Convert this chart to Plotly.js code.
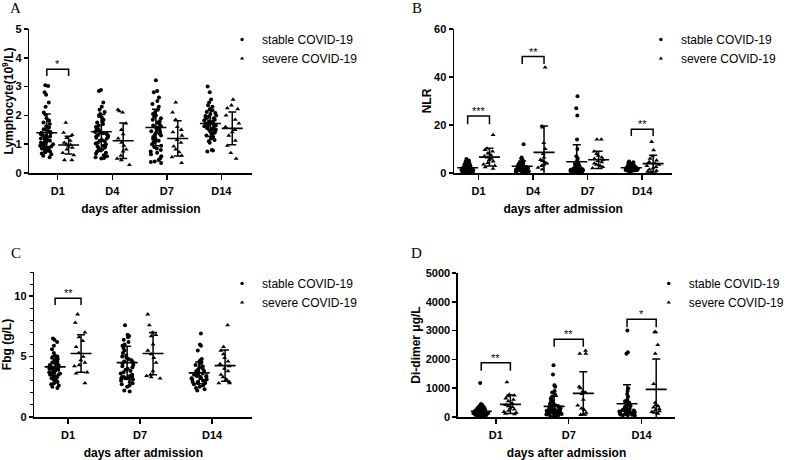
<!DOCTYPE html>
<html><head><meta charset="utf-8">
<script src="https://cdn.plot.ly/plotly-3.0.1.min.js"></script>
<style>html,body{margin:0;padding:0;background:#fff}#chart{width:790px;height:460px}</style>
</head><body><div id="chart"></div>
<script>
// ---------- categories ----------
const daysAB = ['D1', 'D4', 'D7', 'D14'];
const daysCD = ['D1', 'D7', 'D14'];
const groupNames = ['stable COVID-19', 'severe COVID-19'];
const xTitle = 'days after admission';

// ---------- Panel A: Lymphocyte (10^9/L) ----------
const A_stable_D1 = [3.05,3.02,2.8,2.72,2.45,2.3,2.1,2.02,1.9,1.82,1.75,1.7,1.62,1.58,1.52,1.5,1.46,1.42,1.4,1.38,1.35,1.32,1.3,1.27,1.25,1.22,1.2,1.18,1.15,1.12,1.1,1.08,1.05,1.02,1.0,0.98,0.95,0.92,0.9,0.88,0.85,0.82,0.8,0.78,0.75,0.72,0.68,0.65,0.6,0.55];
const A_stable_D4 = [2.88,2.85,2.45,2.3,2.2,2.12,2.05,1.98,1.92,1.85,1.8,1.75,1.7,1.65,1.6,1.55,1.52,1.48,1.45,1.42,1.4,1.38,1.35,1.32,1.3,1.28,1.25,1.22,1.2,1.15,1.12,1.1,1.05,1.02,1.0,0.95,0.92,0.9,0.85,0.82,0.78,0.75,0.7,0.68,0.62,0.58,0.55,0.52,0.5];
const A_stable_D7 = [3.22,2.85,2.8,2.62,2.5,2.4,2.3,2.2,2.12,2.05,2.0,1.95,1.9,1.85,1.8,1.75,1.7,1.65,1.62,1.58,1.55,1.52,1.5,1.45,1.42,1.4,1.35,1.32,1.3,1.25,1.2,1.18,1.12,1.1,1.05,1.0,0.95,0.9,0.85,0.8,0.75,0.7,0.65,0.58,0.5,0.45,0.4,0.38,0.35];
const A_stable_D14 = [3.0,2.8,2.55,2.45,2.35,2.3,2.22,2.18,2.12,2.08,2.05,2.0,1.98,1.95,1.92,1.9,1.88,1.85,1.82,1.8,1.78,1.75,1.72,1.7,1.68,1.65,1.62,1.6,1.58,1.55,1.52,1.5,1.48,1.45,1.42,1.4,1.35,1.3,1.25,1.2,1.15,1.1,1.05,0.8,0.78,0.75];
const A_severe_D1 = [1.75,1.4,1.32,1.22,1.12,1.05,1.0,0.98,0.92,0.88,0.82,0.7,0.62,0.45,0.45];
const A_severe_D4 = [2.2,2.15,2.1,1.72,1.5,1.35,1.2,1.05,0.95,0.82,0.75,0.6,0.5,0.45,0.28];
const A_severe_D7 = [2.45,2.1,1.85,1.6,1.5,1.42,1.3,1.15,1.05,0.92,0.82,0.72,0.6,0.55,0.35];
const A_severe_D14 = [2.55,2.35,2.25,2.22,2.0,1.85,1.72,1.6,1.5,1.42,1.3,1.12,0.95,0.7,0.5];
const A_stable_mean = [1.40, 1.43, 1.58, 1.72];
const A_stable_sd = [0.65, 0.60, 0.63, 0.45];
const A_severe_mean = [0.97, 1.12, 1.20, 1.55];
const A_severe_sd = [0.31, 0.62, 0.61, 0.57];
const A_sig_day = [0];
const A_sig_text = ['*'];
const A_sig_top = [3.6];
const A_sig_leg = [3.37];

// ---------- Panel B: NLR ----------
const B_stable_D1 = [5.8,5.2,4.8,4.5,4.2,4.0,3.8,3.6,3.4,3.2,3.1,3.0,2.9,2.8,2.7,2.6,2.5,2.4,2.3,2.2,2.1,2.0,2.0,1.9,1.8,1.8,1.7,1.6,1.6,1.5,1.5,1.4,1.4,1.3,1.3,1.2,1.2,1.1,1.0,1.0,0.9,0.9,0.8,0.8,0.7,0.7,0.6,0.6,0.5,0.5];
const B_stable_D4 = [12.0,6.5,6.0,5.5,5.0,4.6,4.3,4.0,3.8,3.6,3.4,3.2,3.0,2.9,2.8,2.7,2.6,2.5,2.4,2.3,2.2,2.1,2.0,1.9,1.8,1.8,1.7,1.6,1.5,1.5,1.4,1.3,1.3,1.2,1.1,1.0,1.0,0.9,0.8,0.8,0.7,0.6,0.5,0.5];
const B_stable_D7 = [32.0,27.0,24.0,14.0,10.0,7.0,6.0,5.2,4.8,4.4,4.0,3.8,3.5,3.3,3.0,2.8,2.6,2.5,2.4,2.2,2.1,2.0,1.9,1.8,1.7,1.6,1.5,1.5,1.4,1.3,1.2,1.2,1.1,1.0,1.0,0.9,0.8,0.8,0.7,0.6,0.6,0.5];
const B_stable_D14 = [4.8,4.5,4.2,4.0,3.8,3.6,3.4,3.2,3.0,2.9,2.8,2.7,2.6,2.5,2.4,2.3,2.2,2.2,2.1,2.0,2.0,1.9,1.9,1.8,1.8,1.7,1.7,1.6,1.6,1.5,1.5,1.4,1.4,1.3,1.2,1.2,1.1,1.0,1.0,0.9,0.8,0.7];
const B_severe_D1 = [15.9,10.2,9.6,9.0,8.2,7.5,7.0,6.5,6.0,5.5,4.8,4.2,3.6,3.0,2.4,1.8];
const B_severe_D4 = [44.0,19.5,19.0,12.5,10.0,8.0,6.5,5.5,5.0,4.5,4.0,3.5,3.0,2.2,1.5];
const B_severe_D7 = [14.0,14.0,9.0,8.0,7.2,6.5,6.0,5.5,5.0,4.5,4.0,3.5,3.0,2.5,2.0];
const B_severe_D14 = [13.0,9.5,7.0,6.0,5.2,4.6,4.0,3.5,3.0,2.5,2.0,1.5,1.0,0.6,0.3];
const B_stable_mean = [2.2, 2.8, 4.7, 2.2];
const B_stable_sd = [1.2, 2.2, 7.1, 0.9];
const B_severe_mean = [6.6, 8.6, 5.5, 3.9];
const B_severe_sd = [3.7, 11.0, 3.6, 3.5];
const B_sig_day = [0, 1, 3];
const B_sig_text = ['***', '**', '**'];
const B_sig_top = [23.7, 48.5, 18.2];
const B_sig_leg = [20.3, 45.4, 15.4];

// ---------- Panel C: Fbg (g/L) ----------
const C_stable_D1 = [6.5,6.4,6.2,5.9,5.6,5.3,5.1,5.0,4.9,4.8,4.7,4.6,4.5,4.5,4.4,4.3,4.3,4.2,4.2,4.1,4.1,4.0,4.0,3.9,3.9,3.8,3.8,3.7,3.7,3.6,3.6,3.5,3.5,3.4,3.3,3.2,3.1,3.0,3.0,2.9,2.8,2.7,2.6,2.5,2.4,4.0,4.2,3.9];
const C_stable_D7 = [7.6,6.8,6.7,6.6,6.4,6.2,6.0,5.9,5.7,5.5,5.3,5.1,5.0,4.9,4.8,4.7,4.6,4.5,4.4,4.3,4.2,4.1,4.0,3.9,3.8,3.7,3.6,3.5,3.4,3.3,3.3,3.3,3.2,3.2,3.2,3.1,3.0,2.9,2.8,2.7,2.6,2.5,2.2,2.1];
const C_stable_D14 = [6.9,6.0,5.9,5.5,4.8,4.7,4.6,4.5,4.4,4.3,4.2,4.1,4.0,3.9,3.8,3.8,3.7,3.7,3.6,3.6,3.5,3.5,3.4,3.4,3.3,3.3,3.2,3.2,3.1,3.1,3.0,3.0,2.9,2.9,2.8,2.8,2.7,2.6,2.5,2.4,2.3,2.2];
const C_severe_D1 = [8.5,7.8,7.0,6.6,6.3,5.8,5.3,5.0,4.7,4.5,4.3,4.2,3.7,3.6,2.8];
const C_severe_D7 = [8.5,7.6,7.0,6.8,6.7,6.0,5.5,5.2,4.9,4.5,3.8,3.5,3.4,3.3,3.2];
const C_severe_D14 = [7.6,5.8,5.5,5.2,4.9,4.6,4.4,4.2,4.0,3.8,3.5,3.3,3.1,2.9,2.8,2.8];
const C_stable_mean = [4.15, 4.5, 3.65];
const C_stable_sd = [0.9, 1.35, 0.9];
const C_severe_mean = [5.25, 5.25, 4.25];
const C_severe_sd = [1.55, 1.75, 1.3];
const C_sig_day = [0];
const C_sig_text = ['**'];
const C_sig_top = [9.83];
const C_sig_leg = [9.27];

// ---------- Panel D: Di-dimer (µg/L) ----------
const D_stable_D1 = [1180,450,420,400,380,360,340,320,300,290,280,270,260,250,240,230,220,210,200,200,190,180,180,170,160,160,150,150,140,130,130,120,120,110,100,100,90,90,80,80,70,60,50,250,210,170,140,110];
const D_stable_D7 = [1800,1480,1100,1050,900,850,780,700,650,600,560,520,480,450,420,400,380,360,340,320,300,280,270,260,250,240,230,220,210,200,190,180,170,160,150,140,130,120,110,100,90,80,70,60,50];
const D_stable_D14 = [3000,2250,2200,1000,900,800,700,600,550,500,450,420,400,380,350,320,300,280,260,250,240,230,220,210,200,190,180,170,160,150,140,130,120,110,100,90,80,70,60,50];
const D_severe_D1 = [1210,780,750,720,650,600,550,480,420,380,350,300,260,220,180,150,120,100];
const D_severe_D7 = [2300,2200,2200,1050,1000,900,850,800,600,400,300,250,150,100,80];
const D_severe_D14 = [2950,2950,2500,2200,1150,500,420,380,330,280,240,200,180,150,120];
const D_stable_mean = [200, 370, 460];
const D_stable_sd = [180, 350, 660];
const D_severe_mean = [440, 820, 960];
const D_severe_sd = [320, 750, 1050];
const D_sig_day = [0, 1, 2];
const D_sig_text = ['**', '**', '*'];
const D_sig_top = [1885, 2698, 3392];
const D_sig_leg = [1608, 2442, 3115];

// ---------- layout helpers (pixel positions -> paper) ----------
const W = 790, H = 460;
const px = v => v / W;
const py = v => 1 - v / H;
const FONT = 'Liberation Sans, Arial, sans-serif';
const SERIF = 'Liberation Serif, Times New Roman, serif';

const panels = [
  { id: '', letter: 'A', days: daysAB,
    stable: [A_stable_D1, A_stable_D4, A_stable_D7, A_stable_D14],
    severe: [A_severe_D1, A_severe_D4, A_severe_D7, A_severe_D14],
    sMean: A_stable_mean, sSd: A_stable_sd, vMean: A_severe_mean, vSd: A_severe_sd,
    sig: [A_sig_day, A_sig_text, A_sig_top, A_sig_leg],
    yTitle: 'Lymphocyte(10<sup>9</sup>/L)', yRange: [0, 5], dtick: 1, minor: false,
    box: [30, 258, 29, 173], xr: [-0.52, 3.57], off: 0.2, w: 0.26, so: 2,
    leg: [227, 25], let: [16, 8] },
  { id: '2', letter: 'B', days: daysAB,
    stable: [B_stable_D1, B_stable_D4, B_stable_D7, B_stable_D14],
    severe: [B_severe_D1, B_severe_D4, B_severe_D7, B_severe_D14],
    sMean: B_stable_mean, sSd: B_stable_sd, vMean: B_severe_mean, vSd: B_severe_sd,
    sig: [B_sig_day, B_sig_text, B_sig_top, B_sig_leg],
    yTitle: 'NLR', yRange: [0, 60], dtick: 20, minor: false,
    box: [464, 687, 29, 173], xr: [-0.45, 3.55], off: 0.2, w: 0.26, so: 0,
    leg: [655, 25], let: [426, 8] },
  { id: '3', letter: 'C', days: daysCD,
    stable: [C_stable_D1, C_stable_D7, C_stable_D14],
    severe: [C_severe_D1, C_severe_D7, C_severe_D14],
    sMean: C_stable_mean, sSd: C_stable_sd, vMean: C_severe_mean, vSd: C_severe_sd,
    sig: [C_sig_day, C_sig_text, C_sig_top, C_sig_leg],
    yTitle: 'Fbg (g/L)', yRange: [0, 12], dtick: 5, minor: true,
    box: [35, 258, 272, 417], xr: [-0.47, 2.56], off: 0.18, w: 0.22, so: 2,
    leg: [227, 269], let: [16, 253] },
  { id: '4', letter: 'D', days: daysCD,
    stable: [D_stable_D1, D_stable_D7, D_stable_D14],
    severe: [D_severe_D1, D_severe_D7, D_severe_D14],
    sMean: D_stable_mean, sSd: D_stable_sd, vMean: D_severe_mean, vSd: D_severe_sd,
    sig: [D_sig_day, D_sig_text, D_sig_top, D_sig_leg],
    yTitle: 'Di-dimer μg/L', yRange: [0, 5000], dtick: 1000, minor: false,
    box: [468, 690, 273, 417], xr: [-0.52, 2.46], off: 0.2, w: 0.22, so: 2,
    leg: [663, 269], let: [426, 253] }
];

const traces = [];
const layout = {
  width: W, height: H, margin: { l: 0, r: 0, t: 0, b: 0, pad: 0 },
  paper_bgcolor: '#fff', plot_bgcolor: '#fff',
  font: { family: FONT, color: '#000' },
  boxmode: 'overlay',
  shapes: [], annotations: []
};

const symbols = ['circle', 'triangle-up'];
const sizes = [4, 4.4];
const legendSizes = [3.4, 3.8];

panels.forEach(p => {
  const xa = 'x' + p.id, ya = 'y' + p.id;
  const legendId = 'legend' + p.id;
  const groups = [
    { data: p.stable, mean: p.sMean, sd: p.sSd, o: -p.off },
    { data: p.severe, mean: p.vMean, sd: p.vSd, o: p.off }
  ];
  groups.forEach((g, gi) => {
    const xs = [], ys = [];
    g.data.forEach((arr, di) => arr.forEach(v => { xs.push(di + g.o); ys.push(v); }));
    traces.push({
      type: 'box', x: xs, y: ys, xaxis: xa, yaxis: ya, width: p.w,
      boxpoints: 'all', jitter: 1, pointpos: 0,
      fillcolor: 'rgba(0,0,0,0)', line: { width: 0, color: 'rgba(0,0,0,0)' }, whiskerwidth: 0,
      marker: { symbol: symbols[gi], size: sizes[gi], color: '#000' },
      showlegend: false, hoverinfo: 'skip', name: groupNames[gi]
    });
  });
  groups.forEach((g, gi) => {
    traces.push({
      type: 'scatter', mode: 'markers', xaxis: xa, yaxis: ya,
      x: g.mean.map((m, di) => di + g.o), y: g.mean,
      marker: { symbol: 'line-ew', size: 15, line: { width: 1.6, color: '#000' }, color: '#000' },
      error_y: { type: 'data', array: g.sd, visible: true, width: 4, thickness: 1.5, color: '#000' },
      showlegend: false, hoverinfo: 'skip'
    });
  });
  groupNames.forEach((n, gi) => {
    traces.push({
      type: 'scatter', mode: 'markers', xaxis: xa, yaxis: ya, x: [null], y: [null],
      name: n, legend: legendId,
      marker: { symbol: symbols[gi], size: legendSizes[gi], color: '#000' }
    });
  });

  layout['xaxis' + p.id] = {
    domain: [px(p.box[0]), px(p.box[1])], anchor: ya, range: p.xr,
    tickvals: p.days.map((d, i) => i), ticktext: p.days,
    showline: true, linewidth: 1.5, linecolor: '#000', mirror: false,
    ticks: 'outside', ticklen: 5, tickwidth: 1.5, tickcolor: '#000',
    showgrid: false, zeroline: false, ticklabelstandoff: 2,
    tickfont: { family: FONT, size: 11, color: '#000', weight: 'bold' },
    title: { text: xTitle, standoff: 9, font: { family: FONT, size: 12, color: '#000', weight: 'bold' } }
  };
  const yax = {
    domain: [py(p.box[3]), py(p.box[2])], anchor: xa, range: p.yRange,
    tick0: 0, dtick: p.dtick,
    showline: true, linewidth: 1.5, linecolor: '#000',
    ticks: 'outside', ticklen: 4, tickwidth: 1.5, tickcolor: '#000',
    showgrid: false, zeroline: false,
    tickfont: { family: FONT, size: 11, color: '#000', weight: 'bold' },
    title: { text: p.yTitle, standoff: p.so, font: { family: FONT, size: 12, color: '#000', weight: 'bold' } }
  };
  if (p.minor) yax.minor = { dtick: 1, ticks: 'outside', ticklen: 3, tickwidth: 1, tickcolor: '#000', showgrid: false };
  layout['yaxis' + p.id] = yax;

  layout[legendId] = {
    x: px(p.leg[0]), y: py(p.leg[1]), xanchor: 'left', yanchor: 'top',
    xref: 'paper', yref: 'paper', bgcolor: 'rgba(0,0,0,0)', borderwidth: 0,
    font: { family: FONT, size: 12, color: '#000' }, itemwidth: 30
  };

  // significance brackets
  const [sd, st, stop, sleg] = p.sig;
  sd.forEach((di, k) => {
    const x0 = di - p.off, x1 = di + p.off;
    layout.shapes.push({
      type: 'path', xref: xa, yref: ya,
      path: `M ${x0},${sleg[k]} L ${x0},${stop[k]} L ${x1},${stop[k]} L ${x1},${sleg[k]}`,
      line: { color: '#000', width: 1.5 }
    });
    layout.annotations.push({
      xref: xa, yref: ya, x: di, y: stop[k], yanchor: 'bottom', showarrow: false,
      text: st[k], font: { family: FONT, size: 11, color: '#000' }, yshift: -3
    });
  });

  layout.annotations.push({
    xref: 'paper', yref: 'paper', x: px(p.let[0]), y: py(p.let[1]),
    xanchor: 'center', yanchor: 'middle', showarrow: false,
    text: p.letter, font: { family: SERIF, size: 15, color: '#000' }
  });
});

Plotly.newPlot('chart', traces, layout, { displayModeBar: false, staticPlot: true });
</script>
</body></html>
